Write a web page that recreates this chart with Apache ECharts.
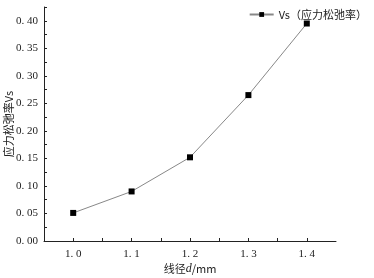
<!DOCTYPE html>
<html>
<head>
<meta charset="utf-8">
<script src="https://cdn.jsdelivr.net/npm/echarts@6/dist/echarts.min.js"></script>
<style>
  html, body { margin: 0; padding: 0; background: #fff; }
  #container { width: 374px; height: 278px; }
</style>
</head>
<body>
<div id="container"></div>
<script>
// 线径 d/mm
var diameter = [1.0, 1.1, 1.2, 1.3, 1.4];
// 应力松弛率 Vs
var vs = [0.051, 0.090, 0.152, 0.265, 0.395];
var seriesName = 'Vs（应力松弛率）';

var dom   = document.getElementById("container");
var chart = echarts.init(dom);

var points = [];
for (var i in diameter) {
    points[i] = [diameter[i], vs[i]];
}

var numFont = '"Liberation Serif", "DejaVu Serif", serif';
var cjkFont = '"Noto Sans CJK SC", "Liberation Serif", serif';

option = {
    animation: false,
    backgroundColor: '#fff',
    grid: {
        left: 44,
        right: 38,
        top: 7,
        bottom: 37,
        containLabel: false,
        outerBoundsMode: 'none'
    },
    legend: {
        right: 2,
        top: 4,
        itemWidth: 24,
        itemHeight: 6,
        itemGap: 4,
        textStyle: {
            fontFamily: cjkFont,
            fontSize: 11,
            color: '#222'
        },
        data: [seriesName]
    },
    xAxis: {
        type: 'value',
        min: 0.95,
        max: 1.45,
        interval: 0.05,
        name: '线径{i|d}/mm',
        nameLocation: 'middle',
        nameGap: 22,
        nameMoveOverlap: false,
        nameTextStyle: {
            fontFamily: cjkFont,
            fontSize: 11,
            color: '#222',
            rich: {
                i: { fontStyle: 'italic', fontFamily: numFont, fontSize: 12, color: '#222' }
            }
        },
        splitLine: { show: false },
        axisLine: { lineStyle: { color: '#222', width: 1 } },
        axisTick: { inside: true, length: 3, lineStyle: { color: '#222' } },
        axisLabel: {
            margin: 8,
            fontFamily: numFont,
            fontSize: 11,
            color: '#222',
            showMinLabel: false,
            showMaxLabel: false,
            formatter: function (v) {
                if (Math.round(v * 100) % 10 !== 0) return '';
                return v.toFixed(1).replace('.', '. ');
            }
        }
    },
    yAxis: {
        type: 'value',
        min: 0,
        max: 0.425,
        interval: 0.025,
        name: '应力松弛率Vs',
        nameLocation: 'middle',
        nameRotate: 90,
        nameGap: 30,
        nameMoveOverlap: false,
        nameTextStyle: {
            fontFamily: cjkFont,
            fontSize: 11,
            color: '#222'
        },
        splitLine: { show: false },
        axisLine: { lineStyle: { color: '#222', width: 1 } },
        axisTick: { inside: true, length: 3, lineStyle: { color: '#222' } },
        axisLabel: {
            margin: 6,
            fontFamily: numFont,
            fontSize: 11,
            color: '#222',
            formatter: function (v) {
                if (Math.round(v * 1000) % 50 !== 0) return '';
                return v.toFixed(2).replace('.', '. ');
            }
        }
    },
    series: [
        {
            name: seriesName,
            type: 'line',
            data: points,
            symbol: 'rect',
            symbolSize: 6,
            itemStyle: { color: '#000' },
            lineStyle: { color: '#888', width: 1 }
        }
    ]
};

chart.setOption(option, true);
</script>
</body>
</html>
